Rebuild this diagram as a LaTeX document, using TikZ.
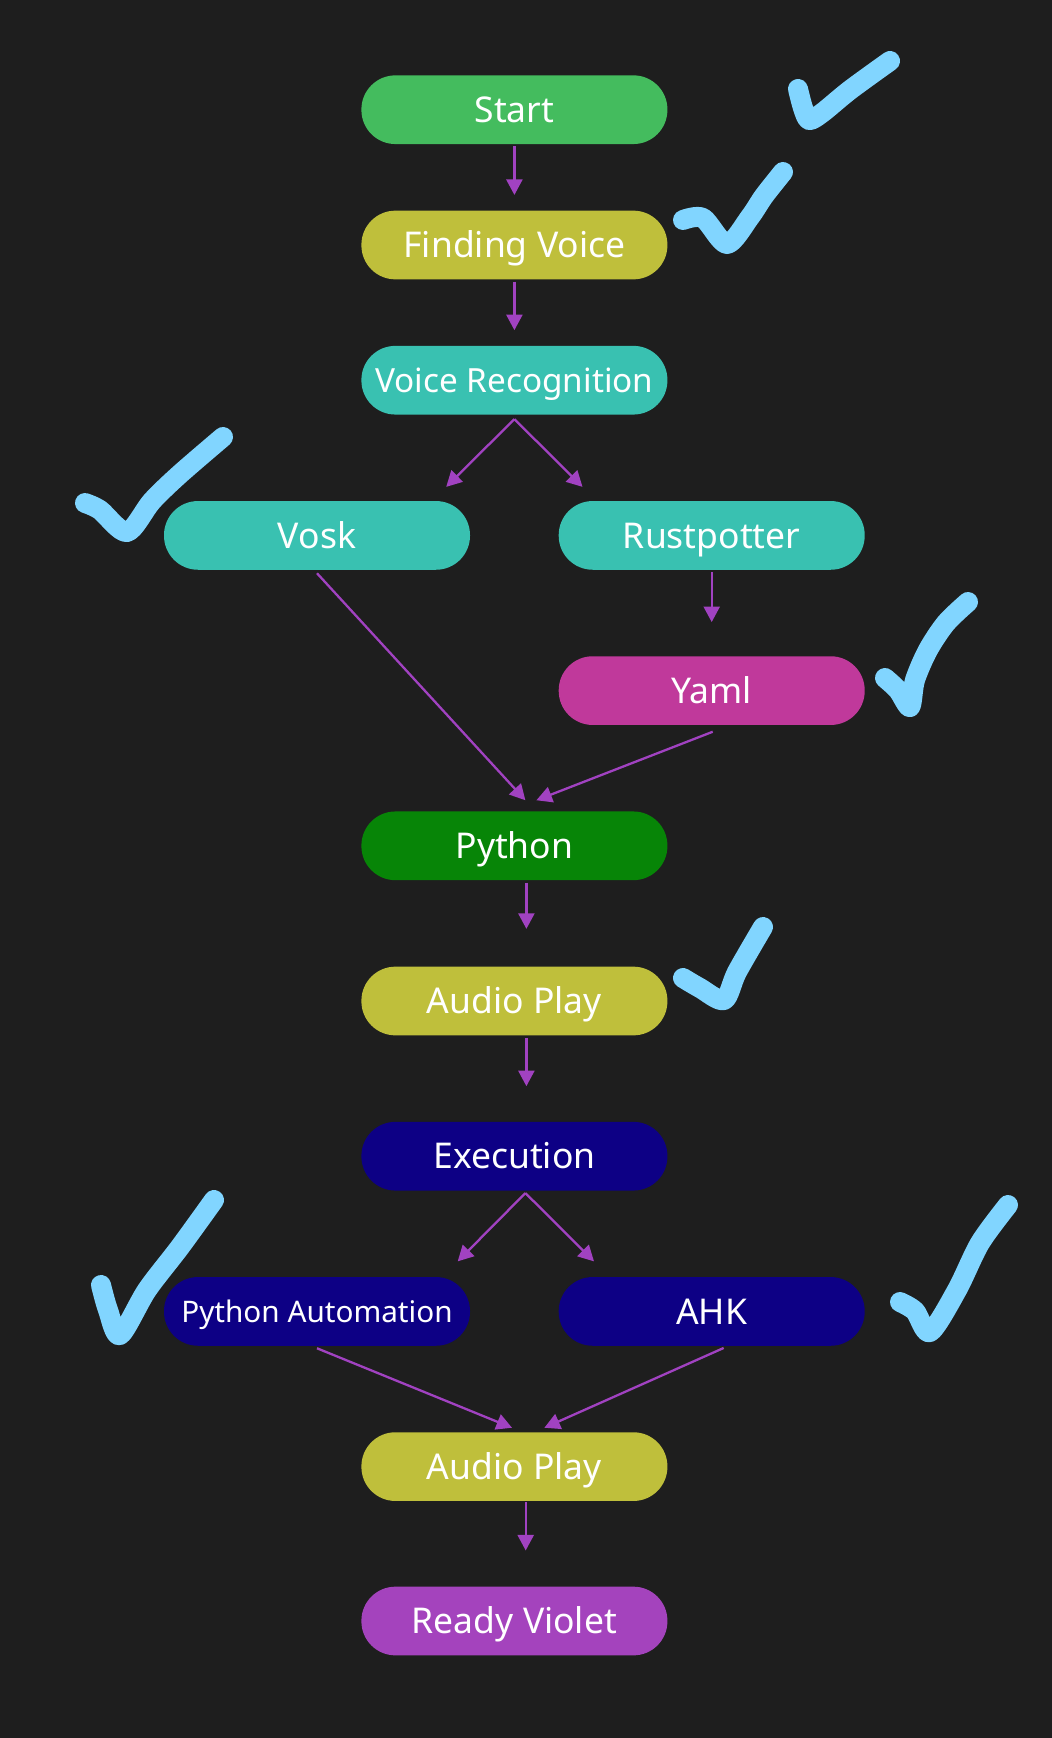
\documentclass[tikz,border=0pt]{standalone}
\usepackage{fontspec}
\setmainfont{Noto Sans}
\usetikzlibrary{arrows.meta,calc}
\definecolor{bgc}{HTML}{1E1E1E}
\definecolor{cstart}{HTML}{44BC5E}
\definecolor{colive}{HTML}{BFBF3B}
\definecolor{cteal}{HTML}{39C1B1}
\definecolor{cyaml}{HTML}{C0399B}
\definecolor{cpython}{HTML}{078507}
\definecolor{cnavy}{HTML}{0D0085}
\definecolor{cviolet}{HTML}{A443BD}
\definecolor{ccheck}{HTML}{81D5FF}
\definecolor{carrow}{HTML}{A142C1}
\begin{document}
\begin{tikzpicture}[x=1pt,y=-1pt,
  pill/.style={rectangle, rounded corners=34pt, minimum width=306pt, minimum height=68.7pt,
    inner sep=0pt, text=white, text height=25.3pt, text depth=0pt,
    font=\fontsize{35.5}{42}\selectfont},
  arr/.style={draw=carrow, line width=2.3pt, -{Triangle[length=15.5pt,width=16pt]}},
  tick/.style={draw=ccheck, line width=20pt, line cap=round, line join=round}]
\fill[bgc] (0,0) rectangle (1052,1738);
\useasboundingbox (0,0) rectangle (1052,1738);

\node[pill, fill=cstart] (start) at (514.4,109.7) {Start};
\node[pill, fill=colive] (fv) at (514.4,245) {Finding Voice};
\node[pill, fill=cteal, font=\fontsize{33.3}{40}\selectfont, text height=23.8pt] (vr) at (514.4,380.2) {Voice Recognition};
\node[pill, fill=cteal] (vosk) at (317,535.4) {Vosk};
\node[pill, fill=cteal] (rust) at (711.7,535.4) {Rustpotter};
\node[pill, fill=cyaml] (yaml) at (711.7,690.6) {Yaml};
\node[pill, fill=cpython] (python) at (514.4,845.8) {Python};
\node[pill, fill=colive] (ap1) at (514.4,1001) {Audio Play};
\node[pill, fill=cnavy] (exec) at (514.4,1156.2) {Execution};
\node[pill, fill=cnavy, font=\fontsize{29.7}{36}\selectfont, text height=21.2pt] (pa) at (317,1311.4) {Python Automation};
\node[pill, fill=cnavy] (ahk) at (711.7,1311.4) {AHK};
\node[pill, fill=colive] (ap2) at (514.4,1466.6) {Audio Play};
\node[pill, fill=cviolet] (rv) at (514.4,1621) {Ready Violet};

\draw[arr, shorten <=2pt, shorten >=15.5pt] (start) -- (fv);
\draw[arr, shorten <=2pt, shorten >=15.5pt] (fv) -- (vr);
\draw[arr] ($(vr.south)+(0,4.4)$) -- ($(vosk.north east)+(-24,-14)$);
\draw[arr] ($(vr.south)+(0,4.4)$) -- ($(rust.north west)+(24,-14)$);
\draw[arr] ($(vosk.south)+(0,3.3)$) -- ($(python.north)+(11,-11)$);
\draw[arr, shorten <=2.5pt, shorten >=34pt] (rust) -- (yaml);
\draw[arr] ($(yaml.south)+(1,6.6)$) -- ($(python.north)+(22,-11)$);
\draw[arr] ($(python.south)+(12,2.3)$) -- ($(ap1.north)+(12,-37.6)$);
\draw[arr] ($(ap1.south)+(12,2.3)$) -- ($(exec.north)+(12,-35.5)$);
\draw[arr] ($(exec.south)+(11,2.3)$) -- ($(pa.north east)+(-12.5,-15.5)$);
\draw[arr] ($(exec.south)+(11,2.3)$) -- ($(ahk.north west)+(35.5,-15.5)$);
\draw[arr] ($(pa.south)+(0,2.3)$) -- ($(ap2.north)+(-2.4,-4.3)$);
\draw[arr] ($(ahk.south)+(12,2)$) -- ($(ap2.north)+(30,-4.3)$);
\draw[arr] ($(ap2.south)+(11.3,1)$) -- ($(rv.north)+(11.3,-36)$);

\draw[tick] plot[smooth, tension=0.5] coordinates {(798,89) (803,108) (809,120) (822,113) (850,90) (890,61)};
\draw[tick] plot[smooth, tension=0.5] coordinates {(683,220) (703,218) (727,244) (750,217) (764,196) (783,172)};
\draw[tick] plot[smooth, tension=0.5] coordinates {(85,503) (100,510) (127,532) (152,501) (180,474) (223,437)};
\draw[tick] plot[smooth, tension=0.5] coordinates {(885,678) (898,690) (910,707) (915,680) (928,650) (946,623) (968,602)};
\draw[tick] plot[smooth, tension=0.5] coordinates {(683,978) (700,988) (724,1000) (737,972) (763,927)};
\draw[tick] plot[smooth, tension=0.5] coordinates {(101,1285) (108,1310) (120,1335) (147,1290) (180,1247) (214,1200)};
\draw[tick] plot[smooth, tension=0.5] coordinates {(900,1302) (915,1311) (930,1332) (957,1290) (980,1243) (1008,1205)};
\end{tikzpicture}
\end{document}
